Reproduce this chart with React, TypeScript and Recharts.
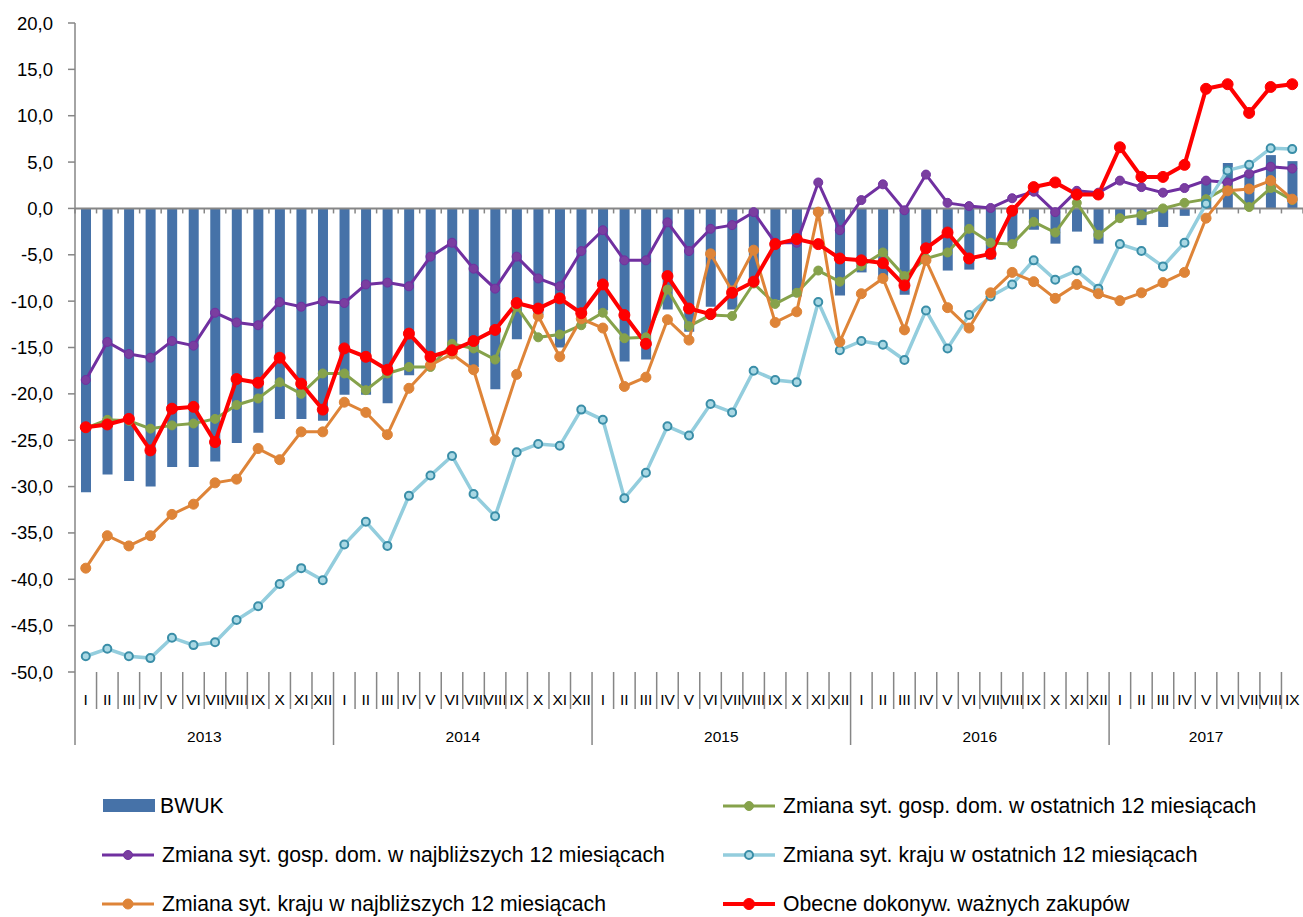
import { ComposedChart, Bar, Line, XAxis, YAxis, ReferenceLine } from 'recharts'

const MONTH_NAMES = ['I', 'II', 'III', 'IV', 'V', 'VI', 'VII', 'VIII', 'IX', 'X', 'XI', 'XII']
const YEARS = ['2013', '2014', '2015', '2016', '2017']
const MONTHS_PER_YEAR = [12, 12, 12, 12, 9]

const BWUK = [
  -30.6, -28.7, -29.4, -30.0, -27.9, -27.9, -27.3, -25.3, -24.2, -22.7, -22.7, -22.9,
  -20.1, -20.1, -21.0, -18.0, -16.5, -15.0, -17.1, -19.5, -14.1, -11.5, -15.0, -11.4,
  -11.0, -16.5, -16.3, -10.9, -13.3, -10.6, -10.9, -8.0, -9.9, -9.5, -0.6, -9.4,
  -6.9, -7.5, -9.3, -4.5, -6.7, -6.6, -5.5, -3.7, -2.3, -3.8, -2.5, -3.8,
  -1.0, -1.8, -2.0, -0.8, 3.2, 4.9, 3.9, 5.75, 5.1,
]

// zielona
const GOSP_OSTATNIE = [
  -23.7, -22.8, -22.9, -23.75, -23.4, -23.2, -22.7, -21.2, -20.5, -18.75, -20.0, -17.8,
  -17.8, -19.6, -17.8, -17.1, -17.1, -14.6, -15.1, -16.3, -10.6, -13.9, -13.6, -12.6,
  -11.25, -14.0, -13.9, -8.75, -12.7, -11.5, -11.6, -8.1, -10.3, -9.1, -6.7, -7.9,
  -6.2, -4.75, -7.3, -5.4, -4.75, -2.2, -3.7, -3.85, -1.45, -2.6, 0.6, -2.85,
  -1.05, -0.7, 0.0, 0.6, 1.0, 2.3, 0.15, 2.2, 0.9,
]

// fioletowa
const GOSP_NAJBLIZSZE = [
  -18.5, -14.4, -15.7, -16.1, -14.3, -14.8, -11.25, -12.3, -12.6, -10.1, -10.6, -10.0,
  -10.2, -8.2, -8.0, -8.4, -5.2, -3.7, -6.5, -8.65, -5.2, -7.55, -8.4, -4.6,
  -2.35, -5.6, -5.6, -1.5, -4.6, -2.2, -1.8, -0.4, -3.7, -3.7, 2.8, -2.35,
  0.9, 2.6, -0.2, 3.65, 0.6, 0.25, 0.05, 1.1, 1.8, -0.4, 1.9, 1.7,
  3.0, 2.3, 1.7, 2.2, 3.0, 2.8, 3.75, 4.5, 4.3,
]

// jasnoniebieska
const KRAJ_OSTATNIE = [
  -48.3, -47.5, -48.3, -48.5, -46.3, -47.1, -46.8, -44.4, -42.9, -40.5, -38.8, -40.1,
  -36.25, -33.8, -36.4, -31.0, -28.8, -26.7, -30.8, -33.2, -26.3, -25.4, -25.6, -21.7,
  -22.8, -31.25, -28.5, -23.5, -24.5, -21.1, -22.0, -17.5, -18.5, -18.75, -10.1, -15.3,
  -14.3, -14.7, -16.35, -11.0, -15.1, -11.5, -9.5, -8.2, -5.6, -7.7, -6.7, -8.65,
  -3.85, -4.6, -6.25, -3.7, 0.5, 4.1, 4.7, 6.5, 6.4,
]

// pomarańczowa
const KRAJ_NAJBLIZSZE = [
  -38.8, -35.3, -36.4, -35.3, -33.0, -31.9, -29.6, -29.2, -25.9, -27.1, -24.1, -24.1,
  -20.9, -22.0, -24.4, -19.4, -16.9, -15.7, -17.4, -25.0, -17.9, -11.6, -16.0, -11.9,
  -12.9, -19.2, -18.2, -12.0, -14.2, -4.9, -8.9, -4.5, -12.3, -11.15, -0.4, -14.4,
  -9.2, -7.55, -13.1, -5.6, -10.7, -12.9, -9.1, -6.9, -7.9, -9.7, -8.2, -9.2,
  -9.95, -9.1, -8.0, -6.9, -1.05, 1.9, 2.1, 3.0, 1.0,
]

// czerwona
const ZAKUPY = [
  -23.6, -23.3, -22.7, -26.1, -21.6, -21.4, -25.2, -18.4, -18.8, -16.1, -18.9, -21.7,
  -15.1, -16.0, -17.4, -13.5, -16.0, -15.3, -14.3, -13.1, -10.2, -10.8, -9.7, -11.3,
  -8.2, -11.5, -14.6, -7.3, -10.8, -11.4, -9.1, -7.9, -3.85, -3.3, -3.85, -5.4,
  -5.6, -5.9, -8.3, -4.3, -2.6, -5.4, -4.9, -0.25, 2.3, 2.8, 1.5, 1.5,
  6.6, 3.4, 3.4, 4.7, 12.9, 13.4, 10.3, 13.1, 13.4,
]

const Y_TICKS = [20, 15, 10, 5, 0, -5, -10, -15, -20, -25, -30, -35, -40, -45, -50]

const SERIES = [
  { key: 'gospOst', name: 'Zmiana syt. gosp. dom. w ostatnich 12 miesiącach', values: GOSP_OSTATNIE, color: '#86a24b', fill: '#86a24b', width: 3, r: 4.5 },
  { key: 'gospNaj', name: 'Zmiana syt. gosp. dom. w najbliższych 12 miesiącach', values: GOSP_NAJBLIZSZE, color: '#7030a0', fill: '#7a3ea0', width: 3, r: 4.5 },
  { key: 'krajOst', name: 'Zmiana syt. kraju w ostatnich 12 miesiącach', values: KRAJ_OSTATNIE, color: '#93cddd', fill: '#a9d8e4', width: 3.5, r: 4, dotStroke: '#3a8ea8' },
  { key: 'krajNaj', name: 'Zmiana syt. kraju w najbliższych 12 miesiącach', values: KRAJ_NAJBLIZSZE, color: '#de8438', fill: '#de8438', width: 3, r: 5 },
  { key: 'zakupy', name: 'Obecne dokonyw. ważnych zakupów', values: ZAKUPY, color: '#ff0000', fill: '#ff0000', width: 4, r: 5.5 },
]

const rows: any[] = []
YEARS.forEach((year, y) => {
  const n = MONTHS_PER_YEAR[y]
  for (let m = 0; m < n; m++) {
    const i = rows.length
    const row: any = {
      cat: `${year}-${MONTH_NAMES[m]}`,
      month: MONTH_NAMES[m],
      year,
      yearStart: m === 0,
      yearCenter: m === Math.floor(n / 2),
      evenYear: n % 2 === 0,
      bwuk: BWUK[i],
    }
    SERIES.forEach((s) => (row[s.key] = s.values[i]))
    rows.push(row)
  }
})

const W = 1303
const H = 748
const LEFT = 75
const TOP = 23
const AXIS_H = 76
const BAND = (W - LEFT) / rows.length
const GREY = '#868686'

const fmt = (v: number) => v.toFixed(1).replace('.', ',')

function MonthTick(props: any) {
  const { x, y, index } = props
  const d = rows[index]
  if (!d) return null
  const left = x - BAND / 2
  return (
    <g>
      <line x1={left} x2={left} y1={y} y2={y + (d.yearStart ? 73 : 37)} stroke={GREY} strokeWidth={1.5} />
      <text x={x} y={y + 33} textAnchor="middle" fontSize={15.5} fill="#000">
        {d.month}
      </text>
      {d.yearCenter && (
        <text x={d.evenYear ? x - BAND / 2 : x} y={y + 70} textAnchor="middle" fontSize={15.5} fill="#000">
          {d.year}
        </text>
      )}
    </g>
  )
}

function ZeroAxis(props: any) {
  const { x1, x2, y1 } = props
  const step = (x2 - x1) / rows.length
  const marks = []
  for (let k = 0; k <= rows.length; k++) {
    const x = x1 + k * step
    marks.push(<line key={k} x1={x} x2={x} y1={y1} y2={y1 + 5} stroke={GREY} strokeWidth={1.5} />)
  }
  return (
    <g>
      <line x1={x1} x2={x2} y1={y1} y2={y1} stroke={GREY} strokeWidth={2} />
      {marks}
    </g>
  )
}

function LegendIcon({ s }: { s: any }) {
  if (!s) {
    return (
      <svg width={52} height={16}>
        <rect x={0} y={1} width={52} height={13} fill="#4672a8" />
      </svg>
    )
  }
  return (
    <svg width={56} height={16}>
      <line x1={1} x2={53} y1={8} y2={8} stroke={s.color} strokeWidth={s.width} />
      <circle cx={27} cy={8} r={s.r} fill={s.fill} stroke={s.dotStroke || s.color} strokeWidth={s.dotStroke ? 2 : 1} />
    </svg>
  )
}

const LEGEND = [
  { label: 'BWUK', s: null, x: 103, y: 806 },
  { label: SERIES[0].name, s: SERIES[0], x: 722, y: 806 },
  { label: SERIES[1].name, s: SERIES[1], x: 101, y: 855 },
  { label: SERIES[2].name, s: SERIES[2], x: 722, y: 855 },
  { label: SERIES[3].name, s: SERIES[3], x: 101, y: 904 },
  { label: SERIES[4].name, s: SERIES[4], x: 722, y: 904 },
]

export default function App() {
  return (
    <div
      style={{
        position: 'absolute',
        left: 0,
        top: 0,
        width: W,
        height: 917,
        overflow: 'hidden',
        background: '#fff',
        fontFamily: '"Liberation Sans", Arial, sans-serif',
      }}
    >
      <ComposedChart width={W} height={H} data={rows} margin={{ top: TOP, right: 0, left: 0, bottom: 0 }}>
        <XAxis
          dataKey="cat"
          interval={0}
          height={AXIS_H}
          tickSize={0}
          tickMargin={0}
          axisLine={false}
          tickLine={false}
          tick={<MonthTick />}
        />
        <YAxis
          domain={[-50, 20]}
          ticks={Y_TICKS}
          interval={0}
          width={LEFT}
          tickSize={7}
          tickMargin={15}
          axisLine={{ stroke: GREY, strokeWidth: 1.5 }}
          tickLine={{ stroke: GREY, strokeWidth: 1.5 }}
          tick={{ fontSize: 18.5, fill: '#000' }}
          tickFormatter={fmt}
        />
        <Bar dataKey="bwuk" name="BWUK" fill="#4672a8" barSize={10} isAnimationActive={false} />
        <ReferenceLine y={0} shape={<ZeroAxis />} />
        {SERIES.map((s) => (
          <Line
            key={s.key}
            type="linear"
            dataKey={s.key}
            name={s.name}
            stroke={s.color}
            strokeWidth={s.width}
            dot={{ r: s.r, fill: s.fill, stroke: s.dotStroke || s.color, strokeWidth: s.dotStroke ? 2 : 1 }}
            activeDot={false}
            isAnimationActive={false}
          />
        ))}
      </ComposedChart>
      {LEGEND.map((item) => (
        <div
          key={item.label}
          style={{
            position: 'absolute',
            left: item.x,
            top: item.y - 12,
            height: 24,
            display: 'flex',
            alignItems: 'center',
            whiteSpace: 'nowrap',
            fontSize: 21.2,
            color: '#000',
          }}
        >
          <LegendIcon s={item.s} />
          <span style={{ marginLeft: item.s ? 5 : 5 }}>{item.label}</span>
        </div>
      ))}
    </div>
  )
}
